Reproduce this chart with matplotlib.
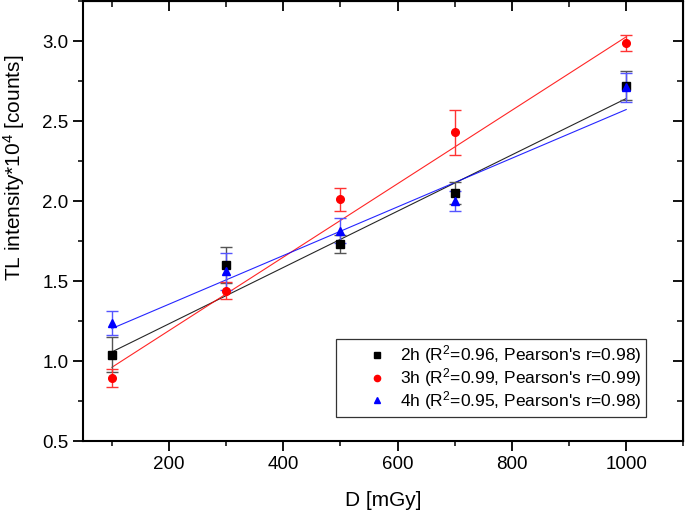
import numpy as np
import matplotlib
matplotlib.use("Agg")
import matplotlib.pyplot as plt
from matplotlib.lines import Line2D
from matplotlib.ticker import MultipleLocator

plt.rcParams['font.family'] = ['Liberation Sans', 'DejaVu Sans']
plt.rcParams['mathtext.fontset'] = 'custom'
plt.rcParams['mathtext.rm'] = 'Liberation Sans'
plt.rcParams['mathtext.default'] = 'regular'

# dose values [mGy]
dose = [100, 300, 500, 700, 1000]

# TL intensity (x10^4 counts) and errors per readout delay
y_2h = [1.04, 1.60, 1.73, 2.05, 2.72]
err_2h = [0.11, 0.115, 0.055, 0.07, 0.09]
y_3h = [0.895, 1.44, 2.01, 2.43, 2.985]
err_3h = [0.055, 0.055, 0.07, 0.14, 0.05]
y_4h = [1.235, 1.56, 1.815, 2.0, 2.71]
err_4h = [0.075, 0.115, 0.08, 0.065, 0.09]

labels = ["2h (R$^2$=0.96, Pearson's r=0.98)",
          "3h (R$^2$=0.99, Pearson's r=0.99)",
          "4h (R$^2$=0.95, Pearson's r=0.98)"]

series = [
    (y_2h, err_2h, 'black', '#555555', 's'),
    (y_3h, err_3h, 'red', '#ff3333', 'o'),
    (y_4h, err_4h, 'blue', '#5555ff', '^'),
]

fig = plt.figure(figsize=(6.85, 5.17), dpi=100)
ax = fig.add_axes([0.1216, 0.147, 0.876, 0.851])

x = np.array(dose, dtype=float)
handles = []
for (yv, ev, col, ecol, mk), lab in zip(series, labels):
    yv = np.array(yv)
    ev = np.array(ev)
    # linear fit through the points
    p = np.polyfit(x, yv, 1, w=1.0 / ev)
    ax.plot(x, np.polyval(p, x), color=col, lw=0.8, alpha=0.85, zorder=2)
    ax.errorbar(x, yv, yerr=ev, fmt='none', ecolor=ecol, elinewidth=1.0,
                capsize=4, capthick=1.0, zorder=3)
    ax.plot(x, yv, linestyle='none', marker=mk, color=col, markersize=5.5,
            zorder=4)
    handles.append(Line2D([], [], linestyle='none', marker=mk, color=col,
                          markersize=4.5, label=lab))

ax.set_xlim(50, 1100)
ax.set_ylim(0.5, 3.25)
ax.xaxis.set_major_locator(MultipleLocator(200))
ax.xaxis.set_minor_locator(MultipleLocator(100))
ax.yaxis.set_major_locator(MultipleLocator(0.5))
ax.yaxis.set_minor_locator(MultipleLocator(0.25))
ax.yaxis.set_major_formatter(plt.FormatStrFormatter('%.1f'))

for s in ax.spines.values():
    s.set_linewidth(1.5)

ax.tick_params(which='major', direction='out', length=7, width=1.3,
               labelsize=13.5, pad=3.5)
ax.tick_params(which='minor', direction='out', length=3.5, width=1.1)
# mirrored ticks on top/right point inward
ax2 = ax.secondary_xaxis('top')
ax2.xaxis.set_major_locator(MultipleLocator(200))
ax2.xaxis.set_minor_locator(MultipleLocator(100))
ax2.tick_params(which='major', direction='in', length=7, width=1.3,
                labeltop=False)
ax2.tick_params(which='minor', direction='in', length=4, width=1.1)
ay2 = ax.secondary_yaxis('right')
ay2.yaxis.set_major_locator(MultipleLocator(0.5))
ay2.yaxis.set_minor_locator(MultipleLocator(0.25))
ay2.tick_params(which='major', direction='in', length=7, width=1.3,
                labelright=False)
ay2.tick_params(which='minor', direction='in', length=4, width=1.1)

ax.set_xlabel('D [mGy]', fontsize=15, labelpad=13)
ax.set_ylabel('TL intensity*10$^4$ [counts]', fontsize=15)
ax.yaxis.set_label_coords(-0.094, 0.62)

leg = ax.legend(handles=handles, loc='lower right',
                bbox_to_anchor=(0.938, 0.0545), fontsize=12.5,
                frameon=True, fancybox=False, edgecolor='black',
                handlelength=4.15, handletextpad=-0.75, labelspacing=0.0,
                borderpad=0.28, borderaxespad=0)
leg.get_frame().set_linewidth(0.9)

fig.savefig('out.png', dpi=100)
